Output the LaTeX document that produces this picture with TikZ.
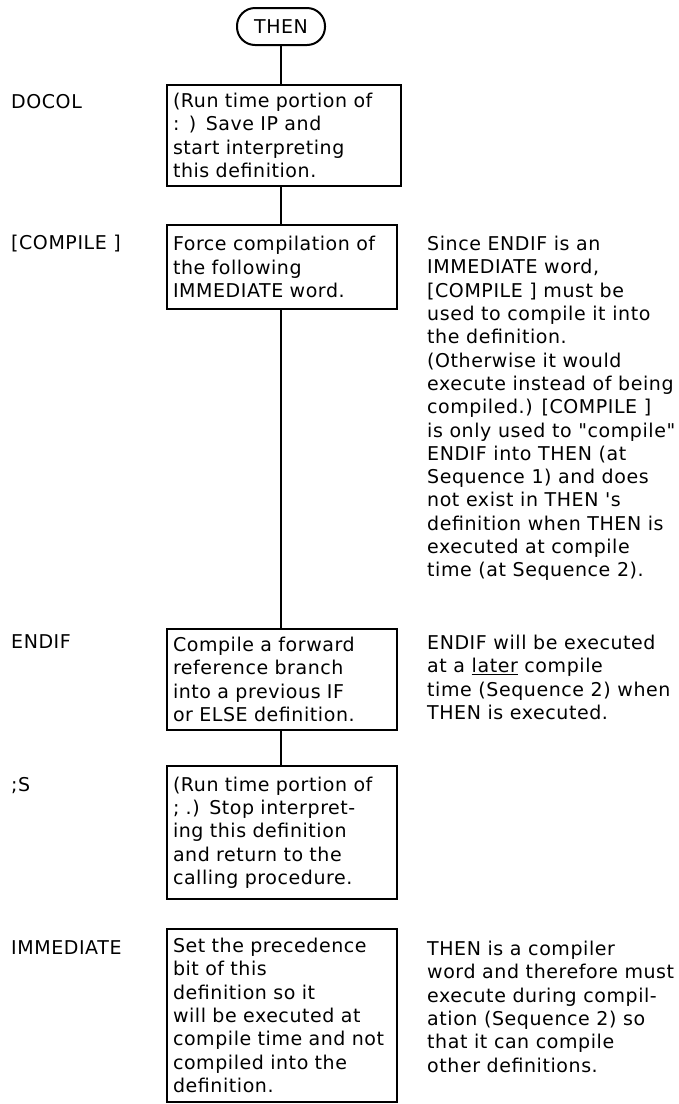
\documentclass[tikz,border=0pt]{standalone}
\usepackage{fontspec}
\setmainfont{DejaVu Sans}[LetterSpace=3, Ligatures=TeXOff]
\usetikzlibrary{positioning}

\begin{document}
\begin{tikzpicture}[x=1pt, y=-1pt, font=\fontsize{19}{23.3}\selectfont,
    wordbox/.style={rectangle, draw=black, line width=2pt, anchor=north, align=left, text width=218pt, inner xsep=6pt, minimum height=#1},
    word/.style={anchor=base west, inner sep=0pt},
    note/.style={anchor=north west, align=left, inner sep=0pt},
    link/.style={line width=2.4pt}
]
\useasboundingbox (0,0) rectangle (678,1104);

% Entry
\node[draw=black, line width=2pt, rounded corners=18pt, minimum width=88pt, minimum height=37pt, inner sep=0pt] (then) at (281,26.5) {THEN};

% Boxes (top to bottom)
\node[wordbox=101pt, text width=222pt] (docolbox) at (284,84) {(Run time portion of\\: ) Save IP and\\start interpreting\\this definition.};
\node[wordbox=84pt] (compilebox) at (282,224) {Force compilation of\\the following\\IMMEDIATE word.};
\node[wordbox=101pt] (endifbox) at (282,628) {Compile a forward\\reference branch\\into a previous IF\\or ELSE definition.};
\node[wordbox=133pt] (semisbox) at (282,765) {(Run time portion of\\; .) Stop interpret-\\ing this definition\\and return to the\\calling procedure.};
\node[wordbox=173pt] (immbox) at (282,928) {Set the precedence\\bit of this\\definition so it\\will be executed at\\compile time and not\\compiled into the\\definition.};

% Links
\draw[link] (then.south) -- (then.south |- docolbox.north);
\draw[link] (then.south |- docolbox.south) -- (then.south |- compilebox.north);
\draw[link] (then.south |- compilebox.south) -- (then.south |- endifbox.north);
\draw[link] (then.south |- endifbox.south) -- (then.south |- semisbox.north);

% Word names
\node[word] (docol) at (11,108.5) {DOCOL};
\node[word] (compile) at (11,249.5) {[COMPILE ]};
\node[word] (endif) at (11,648.5) {ENDIF};
\node[word] (semis) at (11,791.5) {;S};
\node[word] (imm) at (11,954.5) {IMMEDIATE};

% Notes
\node[note] (compilenote) at (427,236) {Since ENDIF is an\\IMMEDIATE word,\\{[}COMPILE ] must be\\used to compile it into\\the definition.\\(Otherwise it would\\execute instead of being\\compiled.) [COMPILE ]\\is only used to "compile"\\ENDIF into THEN (at\\Sequence 1) and does\\not exist in THEN 's\\definition when THEN is\\executed at compile\\time (at Sequence 2).};
\node[note] (endifnote) at (427,635) {ENDIF will be executed\\at a \underline{later} compile\\time (Sequence 2) when\\THEN is executed.};
\node[note] (immnote) at (427,941) {THEN is a compiler\\word and therefore must\\execute during compil-\\ation (Sequence 2) so\\that it can compile\\other definitions.};
\end{tikzpicture}
\end{document}
